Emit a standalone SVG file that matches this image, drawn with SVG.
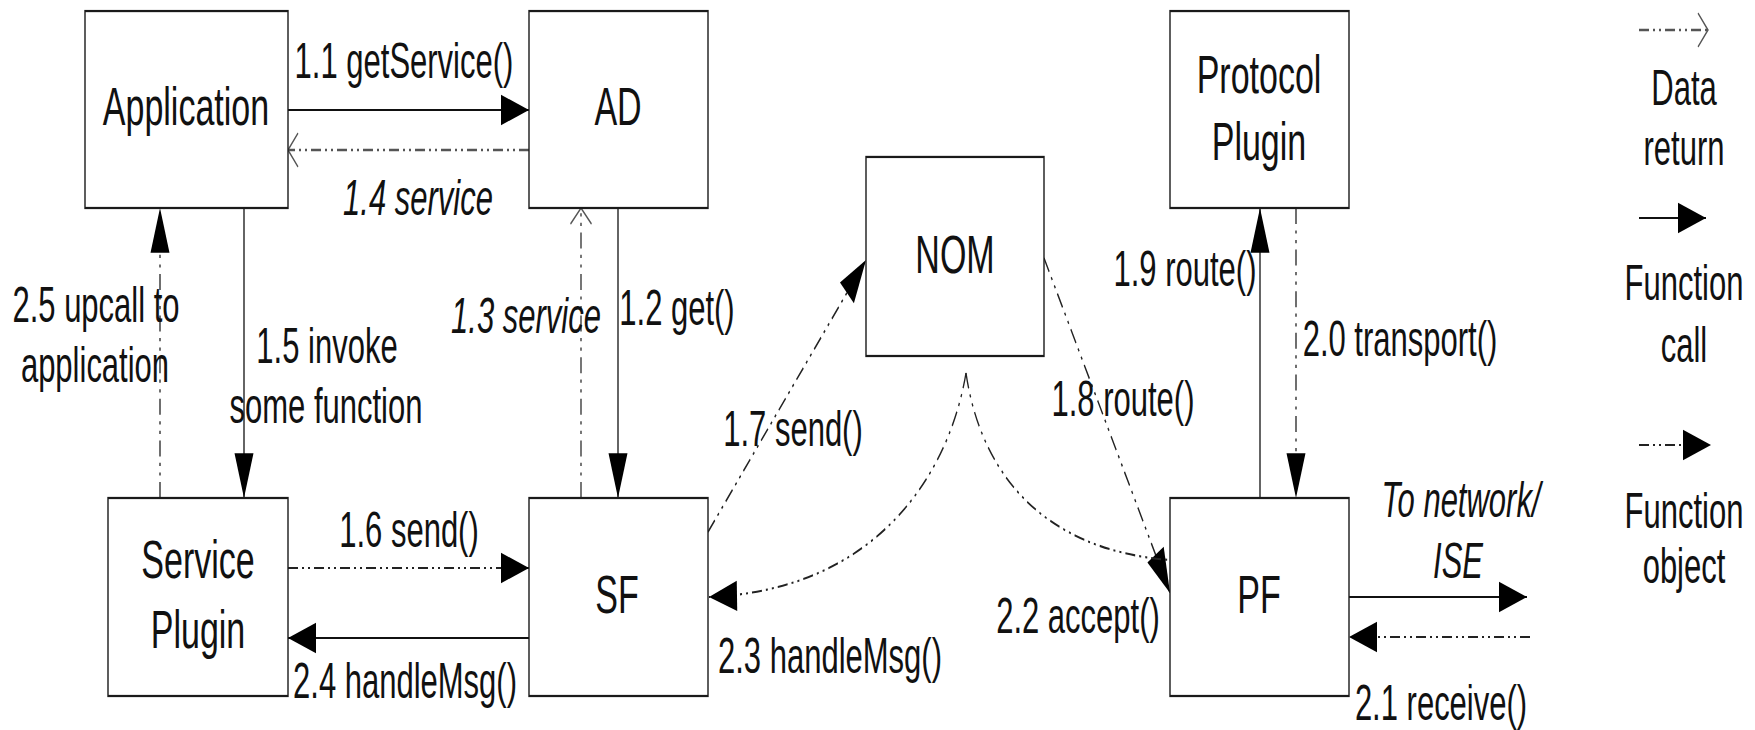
<svg xmlns="http://www.w3.org/2000/svg" width="1755" height="730" viewBox="0 0 1755 730">
  <defs>
    <style>
      .box { fill: #ffffff; stroke: #1a1a1a; stroke-width: 1.4; }
      .name { font-family: "Liberation Sans", Arial, sans-serif; font-size: 34px; fill: #111; text-anchor: middle; }
      .lbl { font-family: "Liberation Sans", Arial, sans-serif; font-size: 31px; fill: #111; text-anchor: middle; }
      .it { font-style: italic; }
      .call { fill: none; stroke: #111; stroke-width: 1.3; }
      .obj { fill: none; stroke: #222; stroke-width: 1.3; stroke-dasharray: 10 4 2 4 2 4; }
      .ret { fill: none; stroke: #555; stroke-width: 1.6; stroke-dasharray: 10 4 2 4 2 4; }
    </style>
    <!-- filled head for function calls and function objects -->
    <marker id="head" markerUnits="userSpaceOnUse" markerWidth="30" markerHeight="20" refX="28" refY="9.5" orient="auto" overflow="visible">
      <path d="M0,0 L28,9.5 L0,19 Z" fill="#000"/>
    </marker>
    <!-- open chevron for data returns -->
    <marker id="open" markerUnits="userSpaceOnUse" markerWidth="12" markerHeight="22" refX="10" refY="10.5" orient="auto" overflow="visible">
      <path d="M0,0 L10,10.5 L0,21" fill="none" stroke="#555" stroke-width="1.2"/>
    </marker>
  </defs>

  <rect width="1755" height="730" fill="#ffffff"/>

  <!-- drawing is laid out on a vertically stretched grid -->
  <g transform="scale(1,1.6)">
    <g id="connectors">
      <!-- 1.1 getService() -->
      <line class="call" x1="288" y1="68.75" x2="529" y2="68.75" marker-end="url(#head)"/>
      <!-- 1.4 service -->
      <line class="ret" x1="529" y1="93.75" x2="288" y2="93.75" marker-end="url(#open)"/>
      <!-- 2.5 upcall to application -->
      <line class="obj" x1="160" y1="311.25" x2="160" y2="130" marker-end="url(#head)"/>
      <!-- 1.5 invoke some function -->
      <line class="call" x1="244" y1="130" x2="244" y2="311.25" marker-end="url(#head)"/>
      <!-- 1.3 service -->
      <line class="ret" x1="581" y1="311.25" x2="581" y2="130" marker-end="url(#open)"/>
      <!-- 1.2 get() -->
      <line class="call" x1="618" y1="130" x2="618" y2="311.25" marker-end="url(#head)"/>
      <!-- 1.6 send() -->
      <line class="obj" x1="288" y1="355" x2="529" y2="355" marker-end="url(#head)"/>
      <!-- 2.4 handleMsg() -->
      <line class="call" x1="529" y1="398.75" x2="288" y2="398.75" marker-end="url(#head)"/>
      <!-- 1.7 send() -->
      <line class="obj" x1="708" y1="332.5" x2="866" y2="162.5" marker-end="url(#head)"/>
      <!-- 1.8 route() -->
      <line class="obj" x1="1044" y1="161.25" x2="1170" y2="370.6" marker-end="url(#head)"/>
      <!-- 2.3 handleMsg() -->
      <path class="obj" d="M966,233.1 C950,293.75 880,368.75 709,373.1" marker-end="url(#head)"/>
      <!-- 2.2 accept() -->
      <path class="obj" d="M966,233.1 C980,293.75 1040,343.75 1170,350"/>
      <!-- 1.9 route() -->
      <line class="call" x1="1260" y1="311.25" x2="1260" y2="130" marker-end="url(#head)"/>
      <!-- 2.0 transport() -->
      <line class="obj" x1="1296" y1="130" x2="1296" y2="311.25" marker-end="url(#head)"/>
      <!-- to network / ISE -->
      <line class="call" x1="1349" y1="373.1" x2="1527" y2="373.1" marker-end="url(#head)"/>
      <!-- 2.1 receive() -->
      <line class="obj" x1="1530" y1="398.1" x2="1349" y2="398.1" marker-end="url(#head)"/>

      <text class="lbl" x="404" y="48.75">1.1 getService()</text>
      <text class="lbl it" x="418" y="134.4">1.4 service</text>
      <text class="lbl" x="96" y="201">2.5 upcall to</text>
      <text class="lbl" x="95" y="238.75">application</text>
      <text class="lbl" x="327" y="227">1.5 invoke</text>
      <text class="lbl" x="326" y="264.4">some function</text>
      <text class="lbl it" x="526" y="208">1.3 service</text>
      <text class="lbl" x="677" y="203">1.2 get()</text>
      <text class="lbl" x="793" y="278.75">1.7 send()</text>
      <text class="lbl" x="1123" y="260">1.8 route()</text>
      <text class="lbl" x="1185" y="178.75">1.9 route()</text>
      <text class="lbl" x="1400" y="222.5">2.0 transport()</text>
      <text class="lbl" x="409" y="341.9">1.6 send()</text>
      <text class="lbl" x="405" y="436.25">2.4 handleMsg()</text>
      <text class="lbl" x="830" y="420.6">2.3 handleMsg()</text>
      <text class="lbl" x="1078" y="395.6">2.2 accept()</text>
      <text class="lbl it" x="1461" y="323.1">To network/</text>
      <text class="lbl it" x="1458" y="361.25">ISE</text>
      <text class="lbl" x="1441" y="450">2.1 receive()</text>
    </g>

    <g id="node-application">
      <rect class="box" x="85" y="6.9" width="203" height="123.1"/>
      <text class="name" x="186" y="78.1">Application</text>
    </g>
    <g id="node-ad">
      <rect class="box" x="529" y="6.9" width="179" height="123.1"/>
      <text class="name" x="618" y="78.1">AD</text>
    </g>
    <g id="node-protocol-plugin">
      <rect class="box" x="1170" y="6.9" width="179" height="123.1"/>
      <text class="name" x="1259" y="58.1">Protocol</text>
      <text class="name" x="1259" y="100">Plugin</text>
    </g>
    <g id="node-nom">
      <rect class="box" x="866" y="98.1" width="178" height="124.4"/>
      <text class="name" x="955" y="170.6">NOM</text>
    </g>
    <g id="node-service-plugin">
      <rect class="box" x="108" y="311.25" width="180" height="123.75"/>
      <text class="name" x="198" y="361.3">Service</text>
      <text class="name" x="198" y="405">Plugin</text>
    </g>
    <g id="node-sf">
      <rect class="box" x="529" y="311.25" width="179" height="123.75"/>
      <text class="name" x="617" y="383.1">SF</text>
    </g>
    <g id="node-pf">
      <rect class="box" x="1170" y="311.25" width="179" height="123.75"/>
      <text class="name" x="1259" y="383.1">PF</text>
    </g>

    <g id="legend">
      <line class="ret" x1="1639" y1="18.75" x2="1708" y2="18.75" marker-end="url(#open)"/>
      <text class="lbl" x="1684" y="65.6">Data</text>
      <text class="lbl" x="1684" y="103.1">return</text>
      <line class="call" x1="1639" y1="136.25" x2="1706" y2="136.25" marker-end="url(#head)"/>
      <text class="lbl" x="1684" y="187.5">Function</text>
      <text class="lbl" x="1684" y="226.25">call</text>
      <line class="obj" x1="1639" y1="278.1" x2="1711" y2="278.1" marker-end="url(#head)"/>
      <text class="lbl" x="1684" y="330">Function</text>
      <text class="lbl" x="1684" y="364.4">object</text>
    </g>
  </g>
</svg>
